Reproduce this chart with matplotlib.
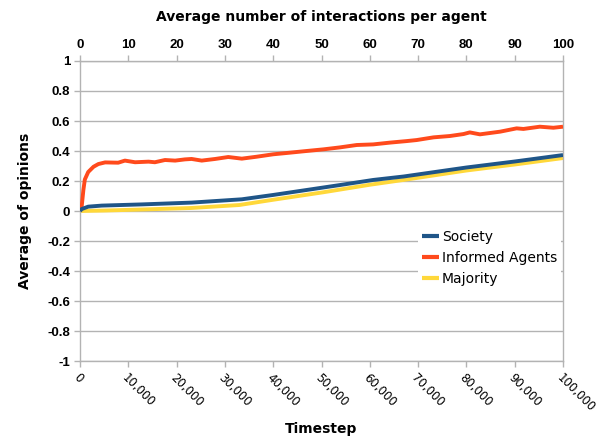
import matplotlib
matplotlib.use("Agg")
import matplotlib.pyplot as plt
from matplotlib.ticker import FuncFormatter

# --- data ---
informed_t = [0, 350, 700, 1000, 1700, 2800, 3800, 5200, 7900, 9300, 11400, 14200,
              15500, 17600, 19700, 21700, 23100, 25200, 28000, 30700, 33500, 36600,
              40000, 43500, 46900, 50400, 53800, 57300, 60700, 64200, 67600, 69700,
              73200, 76600, 79400, 80700, 82800, 87000, 90400, 91800, 95200, 98000,
              100000]
informed_v = [0, 0.03, 0.14, 0.21, 0.26, 0.295, 0.313, 0.324, 0.322, 0.336, 0.325,
              0.329, 0.325, 0.34, 0.336, 0.344, 0.347, 0.336, 0.347, 0.36, 0.349,
              0.362, 0.378, 0.389, 0.40, 0.411, 0.424, 0.44, 0.444, 0.456, 0.466,
              0.473, 0.491, 0.50, 0.513, 0.524, 0.511, 0.529, 0.551, 0.547, 0.562,
              0.555, 0.562]

society_t = [0, 350, 1700, 4500, 12800, 23100, 33500, 40000, 46900, 53800, 60700,
             67000, 80000, 90000, 100000]
society_v = [0, 0.013, 0.029, 0.036, 0.044, 0.056, 0.078, 0.107, 0.14, 0.173, 0.207,
             0.23, 0.29, 0.33, 0.373]

majority_t = [0, 5000, 12800, 23000, 33000, 40000, 50400, 60000, 67600, 80000,
              90000, 100000]
majority_v = [0, 0.003, 0.01, 0.02, 0.04, 0.075, 0.125, 0.175, 0.21, 0.27, 0.31,
              0.353]

series_names = ["Society", "Informed Agents", "Majority"]
series_colors = ["#1f5588", "#ff4a1c", "#ffd83a"]

x_ticks = list(range(0, 100001, 10000))
y_ticks = [1, 0.8, 0.6, 0.4, 0.2, 0, -0.2, -0.4, -0.6, -0.8, -1]
top_ticks = list(range(0, 101, 10))

fig = plt.figure(figsize=(6, 4.4), dpi=100)
ax = fig.add_axes([80 / 600, 1 - 361 / 440, 483 / 600, 300 / 440])

gray = "#b3b3b3"
ax.plot(society_t, society_v, color=series_colors[0], lw=2.8, label=series_names[0],
        solid_capstyle="butt", zorder=4)
ax.plot(informed_t, informed_v, color=series_colors[1], lw=2.8, label=series_names[1],
        solid_capstyle="butt", zorder=3)
ax.plot(majority_t, majority_v, color=series_colors[2], lw=2.8, label=series_names[2],
        solid_capstyle="butt", zorder=2)

ax.set_xlim(0, 100000)
ax.set_ylim(-1, 1)
ax.set_yticks(y_ticks)
ax.set_xticks(x_ticks)
ax.yaxis.set_major_formatter(FuncFormatter(lambda v, p: ("%g" % round(v, 2)) if abs(v) > 1e-9 else "0"))
ax.xaxis.set_major_formatter(FuncFormatter(lambda v, p: "{:,}".format(int(v))))
ax.grid(axis="y", color=gray, lw=1)
ax.set_axisbelow(True)

for s in ax.spines.values():
    s.set_color(gray)
    s.set_linewidth(1)

ax.tick_params(axis="y", colors=gray, length=4, width=1, labelcolor="black", pad=3)
ax.tick_params(axis="x", colors=gray, length=4, width=1, labelcolor="black", pad=3)
for lab in ax.get_yticklabels():
    lab.set_fontfamily("Liberation Sans")
    lab.set_fontweight("bold")
    lab.set_fontsize(9.5)
for lab in ax.get_xticklabels():
    lab.set_rotation(-45)
    lab.set_ha("left")
    lab.set_va("top")
    lab.set_rotation_mode("anchor")
    lab.set_fontsize(8.5)

ax.set_xlabel("Timestep", fontsize=10, fontweight="bold", labelpad=6)
ax.set_ylabel("Average of opinions", fontsize=10, fontweight="bold", labelpad=11)

# top axis
ax2 = ax.twiny()
ax2.set_xlim(0, 100)
ax2.set_xticks(top_ticks)
ax2.tick_params(axis="x", colors=gray, length=4, width=1, labelcolor="black", pad=3)
for lab in ax2.get_xticklabels():
    lab.set_fontfamily("Liberation Sans")
    lab.set_fontweight("bold")
    lab.set_fontsize(9.5)
for s in ax2.spines.values():
    s.set_visible(False)
ax2.set_xlabel("Average number of interactions per agent", fontsize=10,
               fontweight="bold", labelpad=13)

leg = ax.legend(loc="upper left", bbox_to_anchor=(0.70, 0.45), frameon=True,
                fontsize=10, handlelength=1.2, handletextpad=0.2,
                labelspacing=0.48, borderpad=0.3, borderaxespad=0)
leg.get_frame().set_edgecolor("none")
leg.get_frame().set_facecolor("white")
leg.get_frame().set_alpha(1)
leg.set_zorder(10)
for h in leg.get_lines():
    h.set_linewidth(3)

fig.savefig("out.png", dpi=100)
